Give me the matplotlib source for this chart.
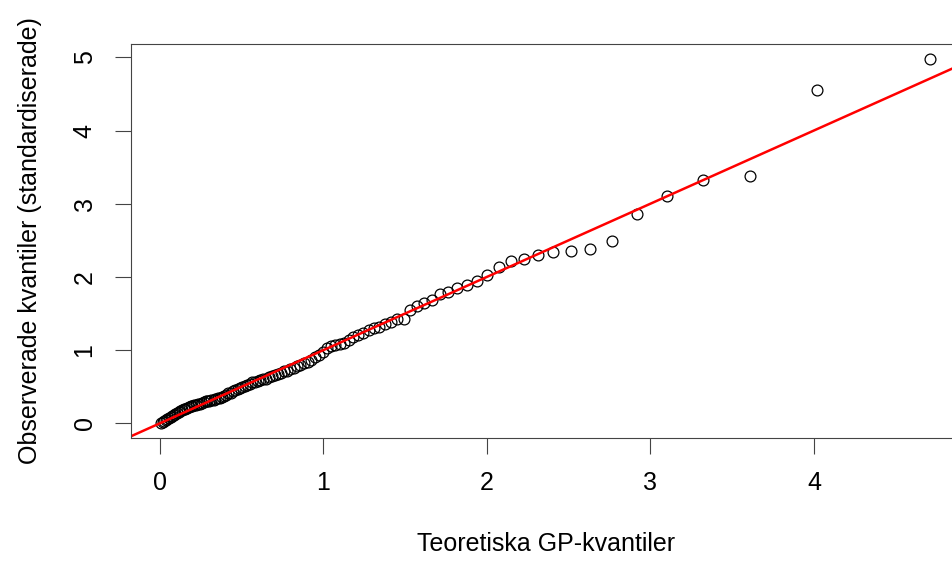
import matplotlib
matplotlib.use("Agg")
import matplotlib.pyplot as plt

plt.rcParams["font.family"] = ["Liberation Sans", "DejaVu Sans"]

theoretical = [
    0.009, 0.018, 0.027, 0.037, 0.046, 0.056, 0.065, 0.075, 0.085, 0.094,
    0.104, 0.114, 0.125, 0.135, 0.145, 0.156, 0.166, 0.177, 0.188, 0.199,
    0.210, 0.221, 0.232, 0.244, 0.255, 0.267, 0.279, 0.291, 0.303, 0.315,
    0.328, 0.340, 0.353, 0.366, 0.379, 0.392, 0.406, 0.419, 0.433, 0.447,
    0.461, 0.475, 0.490, 0.505, 0.520, 0.535, 0.551, 0.566, 0.582, 0.599,
    0.615, 0.632, 0.649, 0.666, 0.684, 0.702, 0.721, 0.739, 0.758, 0.778,
    0.798, 0.818, 0.838, 0.859, 0.881, 0.903, 0.925, 0.948, 0.972, 0.996,
    1.021, 1.046, 1.072, 1.099, 1.126, 1.154, 1.183, 1.213, 1.244, 1.276,
    1.308, 1.342, 1.377, 1.414, 1.452, 1.491, 1.531, 1.574, 1.618, 1.665,
    1.714, 1.765, 1.819, 1.876, 1.937, 2.002, 2.071, 2.145, 2.225, 2.312,
    2.407, 2.512, 2.630, 2.764, 2.918, 3.100, 3.323, 3.611, 4.016, 4.710,
]
observed = [
    0.00, 0.02, 0.03, 0.04, 0.06, 0.07, 0.09, 0.10, 0.12, 0.13,
    0.14, 0.16, 0.17, 0.18, 0.19, 0.20, 0.21, 0.22, 0.23, 0.24,
    0.245, 0.25, 0.26, 0.27, 0.28, 0.29, 0.30, 0.305, 0.31, 0.32,
    0.325, 0.33, 0.34, 0.35, 0.36, 0.38, 0.39, 0.41, 0.42, 0.44,
    0.45, 0.47, 0.48, 0.50, 0.51, 0.53, 0.54, 0.56, 0.57, 0.58,
    0.59, 0.60, 0.61, 0.63, 0.64, 0.66, 0.67, 0.69, 0.71, 0.72,
    0.74, 0.76, 0.78, 0.80, 0.82, 0.84, 0.87, 0.90, 0.94, 0.98,
    1.03, 1.05, 1.07, 1.08, 1.10, 1.14, 1.18, 1.21, 1.24, 1.27,
    1.30, 1.32, 1.36, 1.39, 1.42, 1.43, 1.55, 1.60, 1.65, 1.68,
    1.76, 1.80, 1.85, 1.89, 1.95, 2.02, 2.13, 2.22, 2.25, 2.30,
    2.34, 2.36, 2.38, 2.49, 2.86, 3.10, 3.33, 3.38, 4.55, 4.98,
]
xticks = [0, 1, 2, 3, 4]
yticks = [0, 1, 2, 3, 4, 5]


def padded(values, frac=0.04):
    lo, hi = min(values), max(values)
    d = (hi - lo) * frac
    return lo - d, hi + d


fig = plt.figure(figsize=(9.52, 5.63), dpi=100)
# the right-hand frame runs just past the picture edge, as in the reference
ax = fig.add_axes([0.1372, 0.2222, 0.872, 0.6993])

ax.plot(theoretical, observed, linestyle="none", marker="o", markersize=7.8,
        markerfacecolor="none", markeredgecolor="black", markeredgewidth=0.9)
ax.axline((0, 0), slope=1, color="red", linewidth=1.8)

ax.set_xlim(*padded(theoretical))
ax.set_ylim(*padded(observed))
ax.set_xticks(xticks)
ax.set_yticks(yticks)

for s in ax.spines.values():
    s.set_color("#444444")
    s.set_linewidth(0.8)
ax.tick_params(direction="out", length=11.5, width=0.8, color="#444444",
               labelsize=18, labelcolor="black")
ax.tick_params(axis="x", pad=12)
ax.tick_params(axis="y", pad=13)
for lab in ax.get_yticklabels():
    lab.set_rotation(90)
    lab.set_verticalalignment("center")

ax.set_xlabel("Teoretiska GP-kvantiler", fontsize=18, labelpad=27)
ax.set_ylabel("Observerade kvantiler (standardiserade)", fontsize=18, labelpad=22)

fig.savefig("out.png", dpi=100)
